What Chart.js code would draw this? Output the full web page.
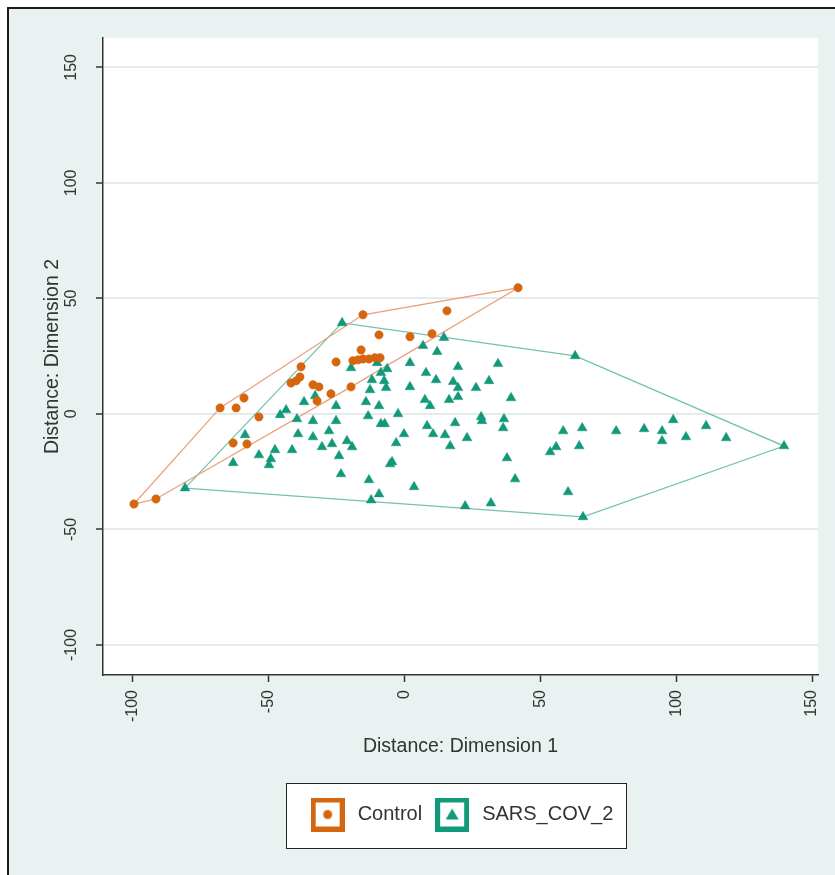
<!DOCTYPE html>
<html>
<head>
<meta charset="utf-8">
<script src="https://cdn.jsdelivr.net/npm/chart.js@4.4.1/dist/chart.umd.min.js"></script>
<style>
  html, body { margin: 0; padding: 0; background: #ffffff; }
  #wrap { width: 835px; height: 875px; }
  canvas { display: block; }
</style>
</head>
<body>
<div id="wrap"><canvas id="mds" width="835" height="875"></canvas></div>
<script>
// Axis ticks
const xTicks = [-100, -50, 0, 50, 100, 150];
const yTicks = [-100, -50, 0, 50, 100, 150];

// Group names
const seriesNames = ['Control', 'SARS_COV_2'];

// MDS coordinates, Control group
const controlX = [-99.6, -91.5, -67.9, -62.0, -59.1, -63.1, -58.0, -53.6, -41.8, -39.9, -38.5,
  -38.1, -33.7, -31.5, -32.2, -27.1, -25.2, -19.7, -19.0, -17.1, -15.3, -13.1, -10.9, -9.0,
  -16.0, -9.4, -15.3, 2.0, 10.1, 15.6, 41.8];
const controlY = [-39.0, -36.8, 2.6, 2.6, 6.9, -12.6, -13.0, -1.3, 13.4, 14.3, 16.0,
  20.4, 12.6, 11.7, 5.6, 8.7, 22.5, 11.7, 23.0, 23.4, 23.8, 23.8, 24.3, 24.3,
  27.7, 34.2, 42.9, 33.4, 34.7, 44.6, 54.6];

// MDS coordinates, SARS_COV_2 group
const sarsX = [-80.8, -23.0, 14.5, 6.8, 12.0, 19.7, 34.4, -19.7, -10.1, -6.4, -8.7, 2.0, 7.9,
  -12.0, -7.5, 11.6, 17.9, 19.7, 26.3, 31.1, -6.8, -12.7, 2.0, 19.7, 16.4, 39.2, -37.0, -32.9,
  -25.2, -14.2, -9.4, 7.5, 9.4, -45.8, -43.6, -39.6, -33.7, -25.2, -13.4, -2.4, -8.7, -7.3, 8.3,
  18.6, 28.2, 28.5, 36.6, 36.3, -58.7, -39.2, -33.7, -27.8, -0.2, 10.5, 14.9, 23.0, 16.8, -21.2,
  -3.1, -30.4, -26.7, -19.3, -47.7, -41.4, -53.6, -49.2, -49.9, -63.1, -24.1, -4.6, -5.3, -23.4,
  -13.1, 3.5, -9.4, -12.3, 22.3, 31.8, 37.7, 40.7, 53.6, 55.8, 64.3, 58.4, 65.4, 77.9, 88.2,
  94.8, 98.9, 94.8, 103.6, 111.0, 118.4, 139.7, 60.2, 65.7, 62.8];
const sarsY = [-32.1, 39.4, 33.0, 29.5, 26.9, 20.4, 21.7, 19.9, 22.1, 19.5, 17.8, 22.1, 17.8,
  14.7, 14.3, 14.7, 13.9, 11.3, 11.3, 14.3, 11.3, 10.4, 11.7, 7.4, 6.1, 6.9, 5.2, 7.8,
  3.5, 5.2, 3.5, 6.1, 3.5, -0.4, 1.7, -2.2, -3.0, -3.0, -0.9, 0.0, -4.3, -4.3, -5.2,
  -3.9, -1.3, -3.0, -2.2, -6.1, -9.1, -8.7, -10.0, -7.4, -8.7, -8.7, -9.1, -10.4, -13.9, -11.7,
  -12.6, -14.3, -13.0, -14.3, -15.6, -15.6, -17.8, -19.5, -22.1, -21.2, -18.2, -20.8, -21.7, -26.0,
  -28.6, -31.6, -34.7, -37.3, -39.9, -38.6, -19.1, -28.2, -16.5, -14.3, -13.9, -7.4, -6.1, -7.4, -6.5,
  -7.4, -2.6, -11.7, -10.0, -5.2, -10.4, -13.9, -33.8, -44.6, 25.1];

const FONT = '"Liberation Sans", Arial, Helvetica, sans-serif';
const INK = '#333333';
const ORANGE = '#d5650f';
const GREEN = '#12997a';

function toPoints(xs, ys) {
  return xs.map((x, i) => ({ x: x, y: ys[i] }));
}

// Convex hull (monotone chain), returned as a closed outline
function convexHull(points) {
  const p = points.slice().sort((a, b) => a.x - b.x || a.y - b.y);
  const cross = (o, a, b) => (a.x - o.x) * (b.y - o.y) - (a.y - o.y) * (b.x - o.x);
  const lower = [];
  for (const pt of p) {
    while (lower.length >= 2 && cross(lower[lower.length - 2], lower[lower.length - 1], pt) <= 0) lower.pop();
    lower.push(pt);
  }
  const upper = [];
  for (let i = p.length - 1; i >= 0; i--) {
    const pt = p[i];
    while (upper.length >= 2 && cross(upper[upper.length - 2], upper[upper.length - 1], pt) <= 0) upper.pop();
    upper.push(pt);
  }
  upper.pop(); lower.pop();
  const h = lower.concat(upper);
  h.push(h[0]);
  return h;
}

const controlPts = toPoints(controlX, controlY);
const sarsPts = toPoints(sarsX, sarsY);

// Legend keys: framed square holding the group's marker
function legendIcon(color, shape) {
  const s = 34;
  const c = document.createElement('canvas');
  c.width = s; c.height = s;
  const g = c.getContext('2d');
  g.fillStyle = '#ffffff';
  g.fillRect(0, 0, s, s);
  g.strokeStyle = color;
  g.lineWidth = 5;
  g.strokeRect(2.5, 2.5, s - 5, s - 5);
  g.fillStyle = color;
  g.beginPath();
  if (shape === 'circle') {
    g.arc(s / 2, s / 2, 4.5, 0, Math.PI * 2);
  } else {
    g.moveTo(s / 2, s / 2 - 6);
    g.lineTo(s / 2 + 6.5, s / 2 + 5);
    g.lineTo(s / 2 - 6.5, s / 2 + 5);
    g.closePath();
  }
  g.fill();
  return c;
}
const legendIcons = [legendIcon(ORANGE, 'circle'), legendIcon(GREEN, 'triangle')];

// Page background, outer frame, white plot region and the legend frame
const framePlugin = {
  id: 'frame',
  beforeDraw(chart) {
    const { ctx, chartArea: a, width, height } = chart;
    ctx.save();
    ctx.fillStyle = '#ffffff';
    ctx.fillRect(0, 0, width, height);
    ctx.fillStyle = '#e9f1f1';
    ctx.fillRect(8, 8, width - 8, height - 8);
    ctx.strokeStyle = '#1c1c1c';
    ctx.lineWidth = 2;
    ctx.beginPath();
    ctx.moveTo(8, height);
    ctx.lineTo(8, 8);
    ctx.lineTo(width, 8);
    ctx.stroke();
    ctx.fillStyle = '#ffffff';
    ctx.fillRect(a.left, a.top, a.right - a.left, a.bottom - a.top);
    const boxes = chart.legend && chart.legend.legendHitBoxes;
    if (boxes && boxes.length) {
      const first = boxes[0];
      const last = boxes[boxes.length - 1];
      const cy = first.top + first.height / 2;
      const l = Math.round(first.left - 22);
      const r = Math.round(last.left + last.width + 13);
      const t = Math.round(cy - 32);
      ctx.fillStyle = '#ffffff';
      ctx.fillRect(l, t, r - l, 65);
      ctx.strokeStyle = '#222222';
      ctx.lineWidth = 1;
      ctx.strokeRect(l + 0.5, t + 0.5, r - l, 65);
    }
    ctx.restore();
  }
};

new Chart(document.getElementById('mds'), {
  type: 'scatter',
  data: {
    datasets: [
      {
        label: seriesNames[0],
        data: controlPts,
        pointStyle: 'circle',
        pointRadius: 4.2,
        backgroundColor: ORANGE,
        borderColor: ORANGE,
        borderWidth: 0.5,
        order: 1
      },
      {
        label: seriesNames[1],
        data: sarsPts,
        pointStyle: 'triangle',
        pointRadius: 5.6,
        backgroundColor: GREEN,
        borderColor: GREEN,
        borderWidth: 0.5,
        order: 1
      },
      {
        label: seriesNames[0] + ' hull',
        data: convexHull(controlPts),
        showLine: true,
        pointRadius: 0,
        borderColor: '#e9a27c',
        borderWidth: 1.3,
        tension: 0,
        fill: false,
        order: 2
      },
      {
        label: seriesNames[1] + ' hull',
        data: convexHull(sarsPts),
        showLine: true,
        pointRadius: 0,
        borderColor: '#74c2ab',
        borderWidth: 1.3,
        tension: 0,
        fill: false,
        order: 2
      }
    ]
  },
  options: {
    responsive: false,
    animation: false,
    events: [],
    layout: { padding: { left: 0, right: 17, top: 38, bottom: 40.5 } },
    scales: {
      x: {
        type: 'linear',
        min: -111,
        max: 152.2,
        afterBuildTicks: s => { s.ticks = xTicks.map(v => ({ value: v })); },
        afterFit: s => { s.height = 119.5; s.paddingLeft = 0; s.paddingRight = 0; },
        grid: { drawOnChartArea: false, drawTicks: true, tickLength: 7, tickColor: INK, tickWidth: 1.5 },
        border: { display: true, color: INK, width: 1.5 },
        ticks: {
          autoSkip: false, minRotation: 90, maxRotation: 90, padding: 8,
          color: INK, font: { family: FONT, size: 16 }
        },
        title: {
          display: true, text: 'Distance: Dimension 1', color: INK,
          font: { family: FONT, size: 19.5 }, padding: { top: 0, bottom: 35.8 }
        }
      },
      y: {
        type: 'linear',
        min: -113,
        max: 162.7,
        afterBuildTicks: s => { s.ticks = yTicks.map(v => ({ value: v })); },
        afterFit: s => { s.width = 103; s.paddingTop = 0; s.paddingBottom = 0; },
        grid: { color: '#e3ebec', lineWidth: 2, tickLength: 7, tickColor: INK, tickWidth: 1.5 },
        border: { display: true, color: INK, width: 1.5 },
        ticks: {
          autoSkip: false, minRotation: 90, maxRotation: 90, crossAlign: 'center', padding: 8,
          color: INK, font: { family: FONT, size: 16 }
        },
        title: {
          display: true, text: 'Distance: Dimension 2', color: INK,
          font: { family: FONT, size: 19.5 }, padding: { top: 41.3, bottom: 0 }
        }
      }
    },
    plugins: {
      tooltip: { enabled: false },
      legend: {
        position: 'bottom',
        fullSize: false,
        labels: {
          usePointStyle: true,
          pointStyleWidth: 40,
          padding: 10,
          color: INK,
          font: { family: FONT, size: 20 },
          generateLabels(chart) {
            const items = Chart.defaults.plugins.legend.labels.generateLabels(chart);
            return items
              .filter(it => it.datasetIndex < 2)
              .map(it => Object.assign(it, { pointStyle: legendIcons[it.datasetIndex] }));
          }
        }
      }
    }
  },
  plugins: [framePlugin]
});
</script>
</body>
</html>
